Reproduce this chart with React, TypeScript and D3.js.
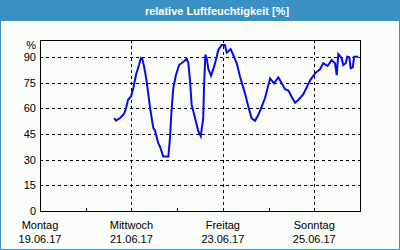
import React, { useEffect, useRef } from "react";
import * as d3 from "d3";

// hours since Montag 19.06.17 00:00
const hours = [
  38.9, 39.9, 42, 44.1, 45.2, 46.2, 47.8, 49, 50.4, 52, 53, 53.7, 54.8, 56,
  57.8, 59.5, 60.4, 62, 63, 64.7, 67.4, 68.3, 69, 70, 71.4, 73.1, 75.2, 77,
  77.9, 78.8, 79.6, 81.4, 83.1, 84.4, 85.7, 86.1, 86.8, 87.5, 88.4, 89.8, 91.4,
  92.8, 93.6, 95.4, 97.1, 98, 100.1, 101.5, 103.3, 105, 107.6, 109.4, 111.1,
  112.9, 114.6, 116.4, 118.1, 120.8, 122.9, 125.1, 126.9, 128.6, 130.4, 132.1,
  133.9, 135.6, 138.2, 141.8, 144.4, 147, 148.7, 151, 153.1, 154.9, 155.8,
  156.6, 158.4, 159.2, 160.5, 161.3, 162.4, 163.1, 164.2, 164.9, 167.1,
];
const humidity = [
  54.4, 52.8, 54.4, 56.7, 60.2, 64.9, 67, 71.9, 79.7, 85.5, 89.5, 89, 83.6,
  75.8, 60.2, 48.5, 47, 40, 37.6, 31.8, 31.8, 43.5, 58, 72, 79.7, 85.5, 87.1,
  89, 86.5, 75.8, 62.2, 54.4, 46.6, 43.7, 54.4, 71.9, 91.4, 89.5, 83, 79, 84.4,
  90.2, 94.2, 97.1, 97.1, 92.6, 94.6, 91.2, 86.4, 78.6, 68.8, 61, 54.2, 52.8,
  56.1, 61, 65.9, 77.6, 74.7, 78.2, 74.7, 71.2, 70.4, 66.8, 63.3, 64.9, 68.2,
  76.4, 80.5, 82.9, 86.4, 84.8, 88.3, 86.4, 79.5, 91.8, 89.3, 85.4, 86.4, 90.2,
  89.9, 83.5, 84, 90.2, 90.2,
];

const yTicks = [0, 15, 30, 45, 60, 75, 90];
const dayNames = ["Montag", "Mittwoch", "Freitag", "Sonntag"];
const dayLabels = ["19.06.17", "21.06.17", "23.06.17", "25.06.17"];
const title = "relative Luftfeuchtigkeit [%]";

const start = new Date(2017, 5, 19);
const end = new Date(2017, 5, 26);

export default function App() {
  const ref = useRef<SVGSVGElement>(null);

  useEffect(() => {
    const W = 400,
      H = 250;
    const margin = { top: 40, right: 40, bottom: 39, left: 40 };
    const w = W - margin.left - margin.right,
      h = H - margin.top - margin.bottom;
    const frame = "#3a8fc5";
    const font = "'Liberation Sans', Arial, sans-serif";

    const svg = d3.select(ref.current);
    svg.selectAll("*").remove();

    svg.append("rect").attr("width", W).attr("height", H).attr("fill", "#f9fcf9");
    // title bar and frame
    svg.append("rect").attr("width", W).attr("height", 21).attr("fill", frame);
    svg
      .append("path")
      .attr("d", `M0.5,20 V${H - 0.5} H${W - 0.5} V20`)
      .attr("fill", "none")
      .attr("stroke", frame);
    svg
      .append("text")
      .attr("x", 217)
      .attr("y", 15)
      .attr("text-anchor", "middle")
      .attr("fill", "white")
      .style("font", `bold 11px ${font}`)
      .text(title);

    const g = svg.append("g").attr("transform", `translate(${margin.left},${margin.top})`);

    const x = d3.scaleTime().domain([start, end]).range([0, w]);
    const y = d3.scaleLinear().domain([0, 100]).range([h, 0]);

    const labelDays = d3.timeDay.every(2)!.range(start, end);
    const minorDays = d3.timeDay.range(start, d3.timeDay.offset(end, 1)).filter((d, i) => i % 2 === 1);

    // grid
    g.selectAll(".hgrid")
      .data(yTicks.filter((t) => t > 0))
      .enter()
      .append("line")
      .attr("x1", 0)
      .attr("x2", w)
      .attr("y1", (d) => Math.round(y(d)) + 0.5)
      .attr("y2", (d) => Math.round(y(d)) + 0.5)
      .attr("stroke", "black")
      .attr("stroke-dasharray", "3,3");
    g.selectAll(".vgrid")
      .data(labelDays.slice(1))
      .enter()
      .append("line")
      .attr("x1", (d) => Math.round(x(d)) + 0.5)
      .attr("x2", (d) => Math.round(x(d)) + 0.5)
      .attr("y1", 0)
      .attr("y2", h)
      .attr("stroke", "black")
      .attr("stroke-dasharray", "3,3");

    // minor ticks
    g.selectAll(".minor")
      .data(minorDays)
      .enter()
      .append("line")
      .attr("x1", (d) => Math.round(x(d)) + 0.5)
      .attr("x2", (d) => Math.round(x(d)) + 0.5)
      .attr("y1", h)
      .attr("y2", h - 3)
      .attr("stroke", "black");

    // frame of plot
    g.append("rect")
      .attr("x", 0.5)
      .attr("y", 0.5)
      .attr("width", w)
      .attr("height", h)
      .attr("fill", "none")
      .attr("stroke", "black");

    // y labels
    g.selectAll(".ylab")
      .data(yTicks)
      .enter()
      .append("text")
      .attr("x", -4)
      .attr("y", (d) => y(d) + 4)
      .attr("text-anchor", "end")
      .style("font", `11px ${font}`)
      .text((d) => d);
    g.append("text")
      .attr("x", -4)
      .attr("y", y(100) + 9)
      .attr("text-anchor", "end")
      .style("font", `11px ${font}`)
      .text("%");

    // x labels
    const xl = g
      .selectAll(".xlab")
      .data(labelDays)
      .enter()
      .append("text")
      .attr("text-anchor", "middle")
      .style("font", `11px ${font}`);
    xl.append("tspan")
      .attr("x", (d) => x(d))
      .attr("y", h + 18)
      .text((d, i) => dayNames[i]);
    xl.append("tspan")
      .attr("x", (d) => x(d))
      .attr("y", h + 32)
      .text((d, i) => dayLabels[i]);

    // humidity line
    const data = hours.map((hh, i) => ({ t: d3.timeHour.offset(start, 0).getTime() + hh * 3600000, v: humidity[i] }));
    const line = d3
      .line<{ t: number; v: number }>()
      .x((d) => x(new Date(d.t)))
      .y((d) => y(d.v));
    g.append("path")
      .datum(data)
      .attr("d", line)
      .attr("fill", "none")
      .attr("stroke", "#0a0ae8")
      .attr("stroke-width", 2);
  }, []);

  return (
    <svg
      ref={ref}
      width={400}
      height={250}
      style={{ position: "absolute", left: 0, top: 0 }}
    ></svg>
  );
}
